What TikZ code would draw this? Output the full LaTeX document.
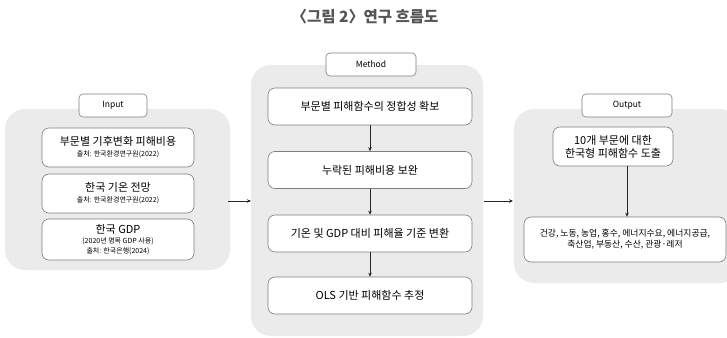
\documentclass[tikz,border=0pt]{standalone}
\usepackage{fontspec}
\setmainfont{Noto Sans CJK KR}
\usetikzlibrary{arrows.meta}
\definecolor{panelgray}{HTML}{EBEBEB}
\definecolor{boxline}{HTML}{7F7F7F}
\definecolor{titlegray}{HTML}{555555}
\tikzset{
  panel/.style={fill=panelgray, draw=none, rounded corners=20pt, inner sep=0pt},
  tag/.style={fill=white, draw=boxline, line width=0.6pt, rounded corners=4pt, minimum width=68pt, minimum height=23pt, inner sep=0pt, font=\fontsize{8.5}{9}\selectfont},
  wbox/.style={fill=white, draw=boxline, line width=0.6pt, rounded corners=7pt, inner sep=0pt, align=center},
  big/.style={font=\fontsize{11}{14}\selectfont},
  flow/.style={-{Stealth[length=4pt,width=3.5pt]}, line width=0.8pt, draw=black!85},
}
\begin{document}
\begin{tikzpicture}[x=1pt,y=-1pt]
\clip (0,0) rectangle (727,337);
\fill[white] (0,0) rectangle (727,337);
\node[font=\fontsize{15.5}{18}\selectfont\bfseries, text=titlegray] (title) at (365,17) {〈그림 2〉\hspace{-4pt} 연구 흐름도};
% panels
\node[panel, minimum width=225pt, minimum height=161pt] (pin) at (117.5,189.5) {};
\node[panel, minimum width=232pt, minimum height=271pt] (pme) at (367,200.5) {};
\node[panel, minimum width=226pt, minimum height=174pt] (pout) at (627,196) {};
% tags
\node[tag] (tin) at (113,105.5) {Input};
\node[tag, minimum width=90pt] (tme) at (371,64.5) {Method};
\node[tag, minimum width=90pt] (tout) at (627,105.5) {Output};
% input boxes
\node[wbox, minimum width=152pt, minimum height=39pt] (l1) at (118,147.5) {{\fontsize{11}{13}\selectfont 부문별 기후변화 피해비용}\\[-1pt]{\fontsize{7}{8}\selectfont 출처: 한국환경연구원(2022)}};
\node[wbox, minimum width=152pt, minimum height=39pt] (l2) at (118,193.5) {{\fontsize{11}{13}\selectfont 한국 기온 전망}\\[-1pt]{\fontsize{7}{8}\selectfont 출처: 한국환경연구원(2022)}};
\node[wbox, minimum width=152pt, minimum height=41pt] (l3) at (118,239.5) {{\fontsize{11}{12}\selectfont 한국 GDP}\\[-2pt]{\fontsize{7}{8}\selectfont (2020년 명목 GDP 사용)}\\[-2pt]{\fontsize{7}{8}\selectfont 출처: 한국은행(2024)}};
% method boxes
\node[wbox, big, minimum width=204pt, minimum height=37pt] (m1) at (370,106.5) {부문별 피해함수의 정합성 확보};
\node[wbox, big, minimum width=204pt, minimum height=37pt] (m2) at (370,170) {누락된 피해비용 보완};
\node[wbox, big, minimum width=204pt, minimum height=37pt] (m3) at (370,233.5) {기온 및 GDP 대비 피해율 기준 변환};
\node[wbox, big, minimum width=204pt, minimum height=37pt] (m4) at (370,295.5) {OLS 기반 피해함수 추정};
% output boxes
\node[wbox, minimum width=120pt, minimum height=39pt, font=\fontsize{11}{13}\selectfont] (o1) at (613,146.5) {10개 부문에 대한\\한국형 피해함수 도출};
\node[wbox, minimum width=202pt, minimum height=45pt, font=\fontsize{8.8}{11}\selectfont] (o2) at (625,239.5) {건강, 노동, 농업, 홍수, 에너지수요, 에너지공급,\\축산업, 부동산, 수산, 관광·레저};
% connectors
\draw[flow] (m1) -- (m2);
\draw[flow] (m2) -- (m3);
\draw[flow] (m3) -- (m4);
\draw[flow] (o1.south -| 627,0) -- (o2.north -| 627,0);
\coordinate (a1s) at (228,201);
\coordinate (a1e) at (251,201);
\coordinate (a2s) at (484,201);
\coordinate (a2e) at (513,201);
\draw[flow] (a1s) -- (a1e);
\draw[flow] (a2s) -- (a2e);
\end{tikzpicture}
\end{document}
